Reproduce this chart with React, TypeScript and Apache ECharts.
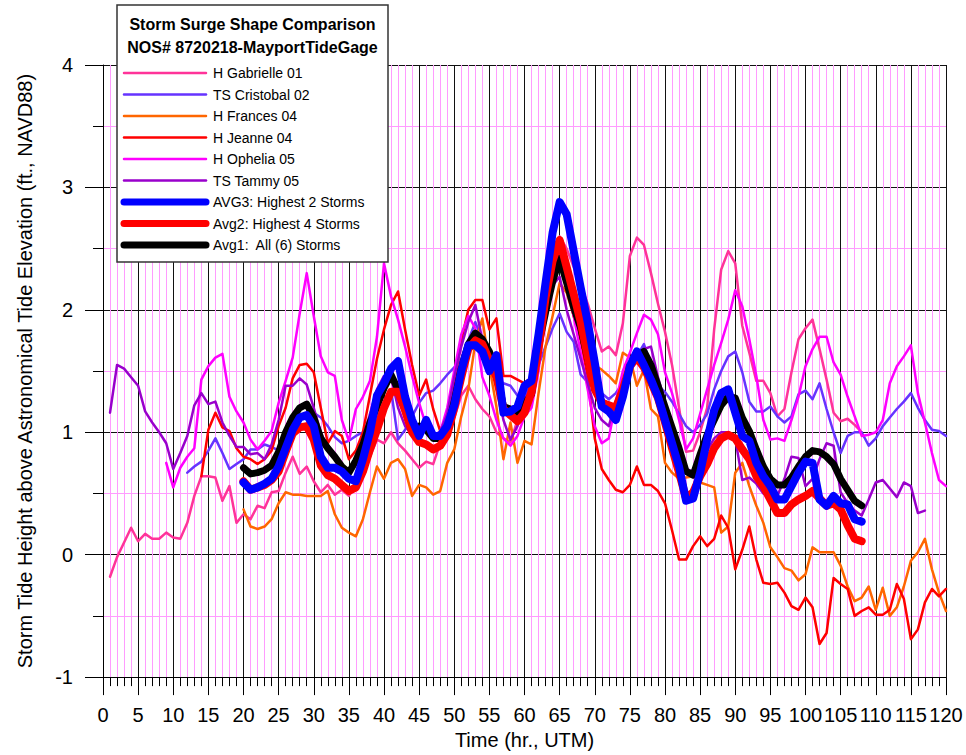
import React, { useEffect, useRef } from "react";
import * as echarts from "echarts";

// Hourly values (ft., NAVD88). Each array starts at the hour given by its *_START constant.
const GABRIELLE_START = 1;
const gabrielle = [
  -0.18, -0.02, 0.1, 0.22, 0.11, 0.17, 0.13, 0.13, 0.18, 0.14,
  0.13, 0.26, 0.48, 0.64, 0.64, 0.63, 0.44, 0.56, 0.26, 0.33,
  0.29, 0.4, 0.38, 0.51, 0.52, 0.67, 0.8, 0.66, 0.72, 0.6,
  0.51, 0.57, 0.49, 0.53, 0.48, 0.57, 0.7, 0.8, 0.94, 0.91,
  1.0, 0.91, 0.85, 0.78, 0.71, 0.76, 0.74, 0.91, 1.05, 1.12,
  1.3, 1.38, 1.27, 1.19, 1.13, 1.0, 0.95, 0.92, 1.1, 1.25,
  1.4, 1.75, 2.15, 2.45, 2.6, 2.5, 2.35, 2.2, 2.05, 1.85,
  1.66, 1.7, 1.63, 1.89, 2.44, 2.59, 2.53, 2.3, 2.05, 1.82,
  1.55, 1.2, 0.84, 0.85, 1.0, 1.2, 1.84, 2.33, 2.48, 2.38,
  1.87, 1.65, 1.42, 1.42, 1.32, 1.13, 1.19, 1.49, 1.76, 1.85,
  1.92, 1.68, 1.43, 1.16, 1.09, 1.11, 1.06, 1.0,
];

const CRISTOBAL_START = 12;
const cristobal = [
  0.67, 0.72, 0.76, 0.85, 0.95, 0.83, 0.7, 0.74, 0.78, 0.86,
  0.86, 0.9, 0.88, 0.85, 0.9, 1.0, 1.1, 1.15, 1.16, 1.12,
  1.05, 0.96, 0.91, 0.93, 0.97, 1.0, 1.05, 1.13, 1.24, 1.35,
  0.94, 1.02, 1.13, 1.24, 1.32, 1.34, 1.4, 1.47, 1.53, 1.6,
  1.75, 1.9, 1.75, 1.6, 1.45, 1.4, 1.38, 1.3, 1.3, 1.4,
  1.55, 1.7, 1.85, 1.97, 1.82, 1.74, 1.47, 1.41, 1.36, 1.32,
  1.27, 1.32, 1.4, 1.51, 1.62, 1.72, 1.55, 1.38, 1.33, 1.25,
  1.15, 1.05, 1.0, 1.06, 1.15, 1.35, 1.5, 1.62, 1.66, 1.49,
  1.25, 1.17, 1.17, 1.21, 1.13, 1.08, 1.13, 1.31, 1.34, 1.27,
  1.4, 1.19, 1.0, 0.83, 0.97, 1.0, 1.0, 0.89, 0.95, 1.05,
  1.12, 1.19, 1.25, 1.32, 1.2, 1.1, 1.02, 1.01, 0.97,
];

const FRANCES_START = 20;
const frances = [
  0.37, 0.23, 0.21, 0.23, 0.29, 0.42, 0.51, 0.49, 0.49, 0.48,
  0.48, 0.48, 0.52, 0.33, 0.22, 0.18, 0.15, 0.29, 0.51, 0.72,
  0.62, 0.75, 0.78, 0.7, 0.48, 0.57, 0.55, 0.49, 0.52, 0.75,
  0.86, 1.13, 1.35, 1.73, 1.93, 1.54, 1.21, 0.78, 1.08, 0.75,
  0.93, 0.9, 1.32, 1.7, 1.95, 2.22, 2.14, 1.95, 1.8, 1.65,
  1.55, 1.51, 1.46, 1.4, 1.65, 1.61, 1.38, 1.51, 1.19, 1.13,
  0.75, 0.67, 0.62, 0.63, 0.64, 0.59, 0.57, 0.55, 0.18, 0.23,
  0.67, 0.75, 0.56, 0.4, 0.26, 0.06, -0.02, -0.11, -0.13, -0.21,
  -0.16, 0.06, 0.02, 0.02, 0.02, -0.09, -0.26, -0.38, -0.35, -0.26,
  -0.45, -0.27, -0.5, -0.43, -0.26, -0.05, 0.02, 0.13, -0.12, -0.31,
  -0.46,
];

const JEANNE_START = 14;
const jeanne = [
  0.64, 1.02, 1.16, 1.04, 1.01, 0.87, 0.8, 0.78, 0.74, 0.78,
  0.85, 1.05, 1.2, 1.44, 1.55, 1.56, 1.49, 1.2, 0.91, 1.01,
  0.97, 0.78, 0.85, 1.0, 1.3, 1.6, 1.84, 2.04, 2.15, 1.84,
  1.55, 1.3, 1.43, 1.19, 1.01, 1.15, 1.4, 1.75, 2.0, 2.08,
  2.08, 1.84, 1.93, 1.46, 1.46, 1.43, 1.4, 1.45, 1.7, 2.05,
  2.3, 2.45, 2.2, 1.95, 1.75, 1.45, 0.95, 0.7, 0.61, 0.53,
  0.51, 0.57, 0.72, 0.57, 0.57, 0.52, 0.42, 0.2, -0.04, -0.04,
  0.07, 0.15, 0.07, 0.13, 0.32, 0.22, -0.12, 0.04, 0.23, -0.04,
  -0.23, -0.24, -0.23, -0.31, -0.42, -0.45, -0.35, -0.43, -0.73, -0.64,
  -0.19, -0.24, -0.28, -0.5, -0.46, -0.43, -0.49, -0.49, -0.45, -0.24,
  -0.36, -0.69, -0.61, -0.39, -0.28, -0.34, -0.28,
];

const OPHELIA_START = 9;
const ophelia = [
  0.75, 0.55, 0.71, 0.8, 0.87, 1.43, 1.54, 1.61, 1.64, 1.29,
  1.17, 1.08, 0.94, 0.86, 0.93, 1.01, 1.24, 1.42, 1.61, 1.97,
  2.3, 1.95, 1.62, 1.49, 1.46, 1.1, 0.93, 1.19, 1.29, 1.42,
  1.78, 2.38, 2.11, 1.92, 1.7, 1.46, 1.24, 1.05, 0.98, 1.0,
  1.2, 1.5, 1.8, 1.95, 1.85, 1.45, 1.3, 1.1, 0.95, 0.89,
  0.97, 1.13, 1.2, 1.5, 2.0, 2.3, 2.4, 2.2, 1.95, 1.65,
  1.35, 1.05, 0.91, 0.95, 1.25, 1.5, 1.65, 1.81, 1.96, 1.92,
  1.8, 1.49, 1.32, 1.1, 0.86, 0.95, 1.15, 1.35, 1.55, 1.73,
  1.92, 2.16, 2.03, 1.76, 1.46, 1.1, 0.94, 0.95, 0.93, 1.1,
  1.29, 1.54, 1.68, 1.78, 1.78, 1.57, 1.47, 1.29, 1.13, 0.97,
  0.98, 1.0, 1.1, 1.4, 1.54, 1.62, 1.71, 1.32, 1.08, 0.83,
  0.61, 0.56,
];

const TAMMY_START = 1;
const tammy = [
  1.16, 1.55, 1.52, 1.45, 1.38, 1.17, 1.08, 1.0, 0.91, 0.7,
  0.83, 0.97, 1.22, 1.32, 1.23, 1.25, 1.08, 0.97, 0.88, 0.88,
  0.82, 0.83, 0.78, 0.9, 1.1, 1.38, 1.38, 1.44, 1.39, 1.2,
  1.0, 0.87, 0.8, 0.72, 0.68, 0.75, 0.95, 1.15, 1.35, 1.46,
  1.45, 1.2, 1.05, 0.98, 1.0, 1.02, 0.98, 1.0, 1.15, 1.45,
  1.7, 1.9, 2.04, 1.75, 1.6, 1.4, 1.1, 0.94, 1.05, 1.25,
  1.4, 1.75, 2.05, 2.2, 2.27, 2.0, 1.8, 1.6, 1.4, 1.2,
  1.1, 1.05, 1.25, 1.4, 1.55, 1.62, 1.68, 1.7, 1.45, 1.25,
  1.05, 0.85, 0.7, 0.68, 0.75, 0.85, 0.95, 1.0, 1.0, 0.95,
  0.61, 0.63, 0.58, 0.5, 0.48, 0.48, 0.62, 0.8, 0.79, 0.56,
  0.62, 0.78, 0.91, 0.89, 0.51, 0.42, 0.36, 0.32, 0.45, 0.59,
  0.61, 0.54, 0.47, 0.59, 0.56, 0.34, 0.36,
];

const AVG_START = 20;
const avg1All6 = [
  0.71, 0.66, 0.67, 0.69, 0.73, 0.84, 1.0, 1.12, 1.2, 1.23,
  1.12, 0.95, 0.87, 0.8, 0.72, 0.67, 0.77, 0.9, 1.08, 1.21,
  1.36, 1.47, 1.35, 1.18, 1.0, 1.05, 1.02, 0.95, 0.95, 1.02,
  1.25, 1.52, 1.72, 1.81, 1.76, 1.66, 1.5, 1.21, 1.19, 1.16,
  1.23, 1.31, 1.7, 1.98, 2.23, 2.42, 2.22, 2.02, 1.85, 1.6,
  1.38, 1.25, 1.21, 1.2, 1.32, 1.54, 1.62, 1.66, 1.55, 1.38,
  1.21, 1.04, 0.87, 0.68, 0.65, 0.82, 0.98, 1.1, 1.22, 1.29,
  1.28, 1.12, 1.01, 0.86, 0.72, 0.62, 0.57, 0.57, 0.63, 0.72,
  0.8, 0.85, 0.84, 0.8, 0.74, 0.62, 0.53, 0.44, 0.4,
];
const avg2Top4 = [
  0.6, 0.53, 0.55, 0.57, 0.61, 0.68, 0.84, 0.99, 1.04, 1.05,
  0.94, 0.73, 0.65, 0.62, 0.57, 0.52, 0.55, 0.68, 0.86, 1.02,
  1.2, 1.33, 1.33, 1.18, 1.0, 0.92, 0.9, 0.86, 0.89, 0.98,
  1.2, 1.45, 1.68, 1.75, 1.72, 1.59, 1.45, 1.19, 1.14, 1.09,
  1.16, 1.33, 1.68, 2.1, 2.4, 2.57, 2.35, 2.13, 1.9, 1.62,
  1.35, 1.24, 1.22, 1.2, 1.35, 1.54, 1.61, 1.53, 1.41, 1.28,
  1.08, 0.87, 0.67, 0.46, 0.51, 0.64, 0.74, 0.87, 0.95, 0.98,
  0.95, 0.86, 0.78, 0.64, 0.56, 0.45, 0.34, 0.34, 0.41, 0.45,
  0.48, 0.52, 0.46, 0.4, 0.42, 0.37, 0.24, 0.13, 0.11,
];
const avg3Top2 = [
  0.59, 0.53, 0.55, 0.58, 0.62, 0.72, 0.87, 1.02, 1.12, 1.14,
  1.05, 0.8, 0.71, 0.71, 0.68, 0.62, 0.6, 0.78, 1.0, 1.3,
  1.4, 1.52, 1.58, 1.29, 1.1, 0.97, 1.1, 0.97, 0.97, 1.05,
  1.22, 1.5, 1.71, 1.71, 1.66, 1.5, 1.63, 1.16, 1.17, 1.21,
  1.38, 1.42, 1.8, 2.22, 2.63, 2.88, 2.78, 2.48, 2.18, 1.9,
  1.57, 1.21, 1.17, 1.1, 1.29, 1.54, 1.66, 1.55, 1.43, 1.29,
  1.1, 0.91, 0.72, 0.44, 0.46, 0.67, 0.94, 1.18, 1.32, 1.35,
  1.16, 0.97, 0.93, 0.75, 0.64, 0.56, 0.45, 0.45, 0.56, 0.67,
  0.76, 0.75, 0.45, 0.4, 0.48, 0.42, 0.41, 0.29, 0.27,
];

const xTicks = { min: 0, max: 120, interval: 5 };
const yTicks = { min: -1, max: 4, interval: 1 };

const FONT = "'Liberation Sans', Arial, Helvetica, sans-serif";

const toPairs = (start: number, vals: number[]) => vals.map((v, i) => [start + i, v]);

type Def = { name: string; color: string; width: number; start: number; vals: number[] };

const storms: Def[] = [
  { name: "H Gabrielle 01", color: "#FF3399", width: 2.5, start: GABRIELLE_START, vals: gabrielle },
  { name: "TS Cristobal 02", color: "#6633FF", width: 2.5, start: CRISTOBAL_START, vals: cristobal },
  { name: "H Frances 04", color: "#FF6600", width: 2.5, start: FRANCES_START, vals: frances },
  { name: "H Jeanne 04", color: "#FF0000", width: 2.5, start: JEANNE_START, vals: jeanne },
  { name: "H Ophelia 05", color: "#FF00FF", width: 2.5, start: OPHELIA_START, vals: ophelia },
  { name: "TS Tammy 05", color: "#9900CC", width: 2.5, start: TAMMY_START, vals: tammy },
];
const averages: Def[] = [
  { name: "Avg1:  All (6) Storms", color: "#000000", width: 7, start: AVG_START, vals: avg1All6 },
  { name: "Avg2: Highest 4 Storms", color: "#FF0000", width: 8, start: AVG_START, vals: avg2Top4 },
  { name: "AVG3: Highest 2 Storms", color: "#0000FF", width: 8, start: AVG_START, vals: avg3Top2 },
];

const legendOrder: Def[] = [...storms, averages[2], averages[1], averages[0]];

export default function App() {
  const ref = useRef<HTMLDivElement>(null);
  useEffect(() => {
    if (!ref.current) return;
    const chart = echarts.init(ref.current, undefined, { renderer: "svg" });
    const all = [...storms, ...averages];
    const series = all.map((d, i) => ({
      name: d.name,
      type: "line",
      data: toPairs(d.start, d.vals),
      showSymbol: false,
      symbol: "none",
      z: 2 + i,
      lineStyle: { color: d.color, width: d.width, cap: "round", join: "round" },
      itemStyle: { color: d.color },
      emphasis: { disabled: true },
    }));

    const boxX = 117, boxY = 5, boxW = 271, boxH = 257;
    const rowY0 = 73, rowStep = 21.5;
    const Z = 1000;
    const legendEls: any[] = [
      {
        type: "rect",
        z: Z,
        zlevel: 0,
        shape: { x: boxX, y: boxY, width: boxW, height: boxH },
        style: { fill: "#ffffff", stroke: "#333", lineWidth: 1.5 },
      },
      {
        type: "text",
        z: Z + 1,
        x: boxX + boxW / 2,
        y: 24,
        style: { text: "Storm Surge Shape Comparison", fill: "#000", font: `bold 16px ${FONT}`, align: "center", verticalAlign: "middle" },
      },
      {
        type: "text",
        z: Z + 1,
        x: boxX + boxW / 2,
        y: 47,
        style: { text: "NOS# 8720218-MayportTideGage", fill: "#000", font: `bold 16px ${FONT}`, align: "center", verticalAlign: "middle" },
      },
    ];
    legendOrder.forEach((d, i) => {
      const y = rowY0 + rowStep * i;
      const thick = d.width > 4;
      legendEls.push({
        type: "line",
        z: Z + 1,
        shape: { x1: 124, y1: y, x2: 206, y2: y },
        style: { stroke: d.color, lineWidth: thick ? 7 : 2.5, lineCap: "round" },
      });
      legendEls.push({
        type: "text",
        z: Z + 1,
        x: 213,
        y,
        style: { text: d.name, fill: "#000", font: `14px ${FONT}`, align: "left", verticalAlign: "middle" },
      });
    });

    chart.setOption({
      animation: false,
      backgroundColor: "#fff",
      grid: { left: 103, right: 20, top: 65, bottom: 77, containLabel: false },
      xAxis: {
        type: "value",
        min: xTicks.min,
        max: xTicks.max,
        interval: xTicks.interval,
        name: "Time (hr., UTM)",
        nameLocation: "middle",
        nameGap: 52,
        nameTextStyle: { fontSize: 20, color: "#000", fontFamily: FONT },
        axisLine: { show: true, onZero: false, lineStyle: { color: "#000", width: 1 } },
        axisTick: { show: true, inside: false, length: 18, lineStyle: { color: "#000", width: 1 } },
        minorTick: { show: true, splitNumber: 5, length: 9, lineStyle: { color: "#000", width: 1 } },
        axisLabel: { fontSize: 20, color: "#000", fontFamily: FONT, margin: 28 },
        splitLine: { show: true, lineStyle: { color: "#111", width: 1 } },
        minorSplitLine: { show: true, lineStyle: { color: "#FF9CFF", width: 1 } },
      },
      yAxis: {
        type: "value",
        min: yTicks.min,
        max: yTicks.max,
        interval: yTicks.interval,
        name: "Storm Tide Height above Astronomical Tide Elevation (ft., NAVD88)",
        nameLocation: "middle",
        nameGap: 68,
        nameRotate: 90,
        nameTextStyle: { fontSize: 20, color: "#000", fontFamily: FONT },
        axisLine: { show: true, onZero: false, lineStyle: { color: "#000", width: 1 } },
        axisTick: { show: true, inside: false, length: 18, lineStyle: { color: "#000", width: 1 } },
        minorTick: { show: true, splitNumber: 2, length: 10, lineStyle: { color: "#000", width: 1 } },
        axisLabel: { fontSize: 20, color: "#000", fontFamily: FONT, margin: 30 },
        splitLine: { show: true, lineStyle: { color: "#111", width: 1 } },
        minorSplitLine: { show: true, lineStyle: { color: "#FF9CFF", width: 1 } },
      },
      series,
      graphic: { elements: legendEls },
    });
    return () => chart.dispose();
  }, []);
  return (
    <div
      ref={ref}
      style={{ position: "fixed", left: 0, top: 0, width: 966, height: 755, background: "#fff" }}
    />
  );
}
